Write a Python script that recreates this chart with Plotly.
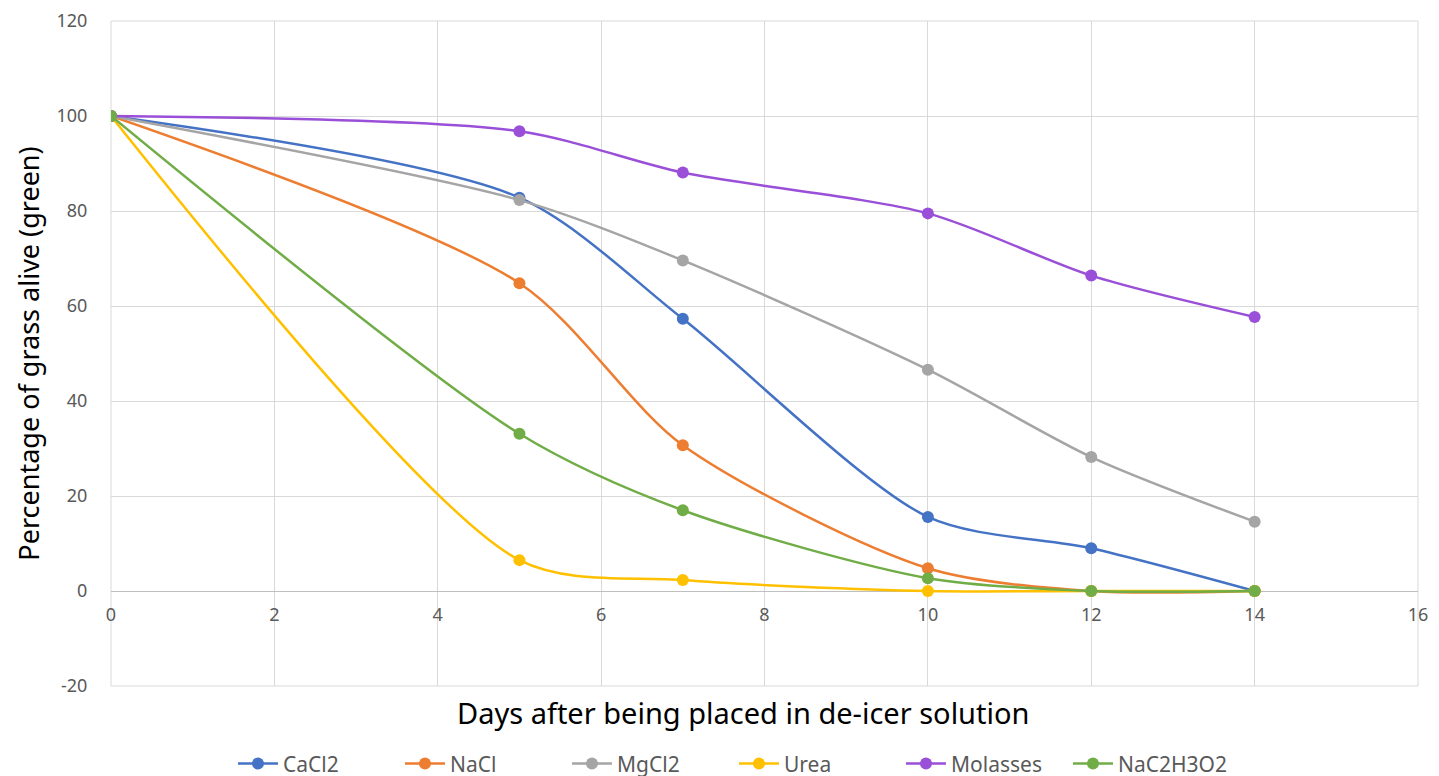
import plotly.graph_objects as go

days = [0, 5, 7, 10, 12, 14]
series_names = ["CaCl2", "NaCl", "MgCl2", "Urea", "Molasses", "NaC2H3O2"]
cacl2 = [100, 82.8, 57.3, 15.6, 9.0, 0]
nacl = [100, 64.8, 30.7, 4.8, 0, 0]
mgcl2 = [100, 82.3, 69.6, 46.6, 28.2, 14.6]
urea = [100, 6.5, 2.3, 0, 0, 0]
molasses = [100, 96.8, 88.1, 79.5, 66.4, 57.7]
nac2h3o2 = [100, 33.1, 17.0, 2.7, 0, 0]
colors = ["#4472C4", "#ED7D31", "#A5A5A5", "#FFC000", "#9A4FD8", "#70AD47"]
x_ticks = [0, 2, 4, 6, 8, 10, 12, 14, 16]
y_ticks = [-20, 0, 20, 40, 60, 80, 100, 120]
y_tick_labels = ["-20", "0", "20", "40", "60", "80", "100", "120"]

values = [cacl2, nacl, mgcl2, urea, molasses, nac2h3o2]

fig = go.Figure()
for name, vals, col in zip(series_names, values, colors):
    fig.add_trace(go.Scatter(
        x=days, y=vals, name=name, mode="lines+markers",
        line=dict(color=col, width=2.5, shape="spline", smoothing=0.8),
        marker=dict(color=col, size=12),
    ))

font = "Noto Sans"
fig.update_layout(
    width=1439, height=776,
    paper_bgcolor="white", plot_bgcolor="white",
    margin=dict(l=103, r=29, t=13, b=98, autoexpand=False),
    font=dict(family=font, color="#595959", size=18),
    showlegend=True,
    legend=dict(orientation="h", x=0.5045, xanchor="center", y=0.026, yanchor="middle",
                xref="container", yref="container",
                font=dict(size=21, color="#595959"), itemwidth=40,
                entrywidth=112, entrywidthmode="pixels",
                traceorder="normal"),
    xaxis=dict(range=[0, 16], tickvals=x_ticks, showgrid=True, gridcolor="#D9D9D9",
               gridwidth=1, zeroline=False, showline=False, ticks="outside",
               ticklen=7, tickcolor="rgba(0,0,0,0)", automargin=False,
               ticklabeloverflow="allow",
               anchor="free", position=20/140, tickfont=dict(size=18, color="#595959")),
    yaxis=dict(range=[-20, 120], tickvals=y_ticks, ticktext=y_tick_labels, showgrid=True,
               gridcolor="#D9D9D9", automargin=False, ticklabeloverflow="allow",
               gridwidth=1, zeroline=True, zerolinecolor="#BFBFBF", zerolinewidth=1,
               showline=False, ticks="outside", ticklen=19, tickcolor="rgba(0,0,0,0)",
               title=dict(text="Percentage of grass alive (green)", font=dict(size=27, color="black"), standoff=9),
               tickfont=dict(size=18, color="#595959")),
    shapes=[dict(type="rect", xref="paper", yref="paper", x0=0, y0=0, x1=1, y1=1,
                 line=dict(color="#D9D9D9", width=1), layer="below")],
    annotations=[dict(text="Days after being placed in de-icer solution", xref="paper", yref="paper",
                      x=0.4836, y=-0.0403, xanchor="center", yanchor="middle", showarrow=False,
                      font=dict(size=29, color="black", family=font))],
)
fig.write_html("out.html")
